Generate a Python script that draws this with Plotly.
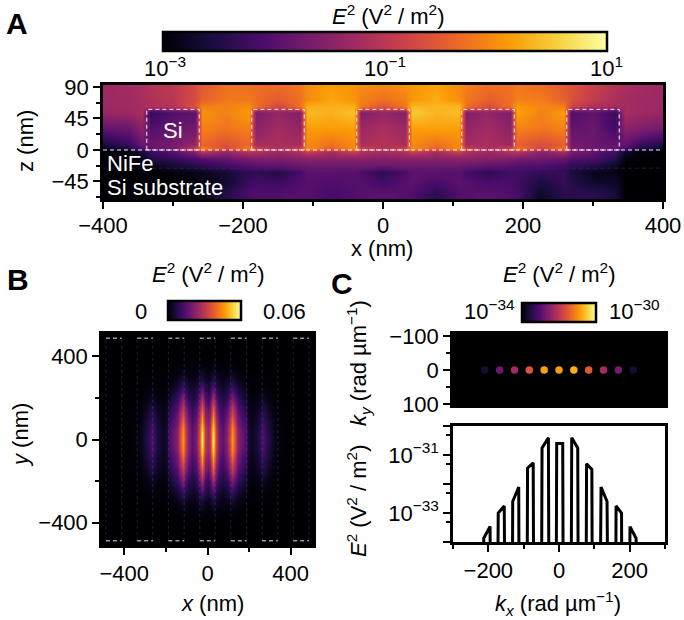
import numpy as np
import plotly.graph_objects as go

W, H = 684, 620
FONT = "Liberation Sans, Arial, sans-serif"
FS = 22
E2_TITLE = "<i>E</i><sup>2</sup> (V<sup>2</sup> / m<sup>2</sup>)"
INFERNO = "Inferno"

# ---- Panel A: log10(E^2) in the x-z cross-section ----
x_a = [-400, -365, -345, -332, -300, -268, -258, -225, -192, -182, -150, -118, -108, -75, -42, -32, 0,
       32, 42, 75, 108, 118, 150, 182, 192, 225, 258, 268, 300, 332, 345, 365, 400]
z_a = [-70, -62, -45, -32, -24, -12, -2, 2, 8, 30, 53, 62, 72, 93]

log_e2_z93 = [-1.32,-1.24,-1.16,-1.08,-1.0,-0.68,-0.52,-0.28,-0.28,-0.32,-0.32,-0.2,-0.04,0.12,0.04,0.0,-0.08,0.0,0.08,0.16,-0.04,-0.16,-0.28,-0.28,-0.2,-0.32,-0.52,-0.6,-0.84,-1.08,-1.16,-1.24,-1.32]
log_e2_z72 = [-1.32,-1.28,-1.2,-1.12,-1.0,-0.68,-0.44,-0.2,-0.2,-0.32,-0.48,-0.28,-0.04,0.2,0.04,-0.12,-0.28,-0.12,0.08,0.24,0.0,-0.2,-0.44,-0.28,-0.12,-0.16,-0.44,-0.6,-0.92,-1.16,-1.24,-1.28,-1.32]
log_e2_z62 = [-1.32,-1.28,-1.2,-1.16,-1.08,-0.6,-0.12,-0.12,0.0,-0.28,-0.76,-0.28,0.28,0.28,0.28,-0.2,-0.6,-0.2,0.36,0.32,0.36,-0.28,-0.68,-0.28,0.12,-0.08,-0.12,-0.8,-1.16,-1.24,-1.24,-1.28,-1.32]
log_e2_z53 = [-1.36,-1.32,-1.2,-2.32,-2.04,-1.92,0.04,-0.12,0.12,-1.64,-1.4,-1.56,0.36,0.28,0.44,-1.56,-1.4,-1.56,0.52,0.32,0.4,-1.56,-1.4,-1.64,0.2,-0.12,0.12,-2.04,-1.88,-2.28,-1.2,-1.28,-1.36]
log_e2_z30 = [-1.88,-1.8,-1.48,-2.04,-1.8,-1.76,-0.12,-0.24,-0.12,-1.48,-1.24,-1.4,0.12,0.12,0.12,-1.32,-1.16,-1.32,0.12,0.16,0.12,-1.4,-1.24,-1.48,-0.12,-0.2,-0.12,-1.88,-1.8,-2.2,-1.48,-1.6,-1.72]
log_e2_z8 = [-2.6,-2.28,-1.8,-1.8,-1.68,-1.4,-0.36,-0.6,-0.36,-1.24,-1.16,-1.24,-0.04,-0.28,-0.04,-1.16,-1.08,-1.16,-0.04,-0.28,-0.04,-1.24,-1.16,-1.32,-0.44,-0.68,-0.44,-1.68,-1.8,-1.88,-1.88,-2.2,-2.52]
log_e2_z2 = [-2.88,-2.6,-2.0,-1.88,-1.72,-0.8,-0.12,-0.68,-0.12,-0.8,-1.16,-0.8,0.0,-0.44,0.0,-0.8,-1.08,-0.8,0.0,-0.44,0.0,-0.8,-1.16,-0.8,-0.2,-0.76,-0.2,-1.64,-1.8,-1.8,-2.12,-2.52,-2.8]
log_e2_zm2 = [-2.96,-2.92,-2.6,-2.28,-1.96,-1.48,-1.0,-1.4,-1.0,-1.1,-1.3,-1.1,-0.84,-1.2,-0.84,-1.1,-1.2,-1.1,-0.84,-1.2,-0.84,-1.1,-1.3,-1.1,-1.0,-1.48,-1.16,-1.64,-1.88,-2.2,-2.68,-2.92,-3.0]
log_e2_zm12 = [-3,-3,-2.84,-2.5,-2.3,-2.1,-2.0,-1.85,-1.65,-1.6,-1.6,-1.55,-1.5,-1.5,-1.5,-1.5,-1.55,-1.5,-1.5,-1.5,-1.5,-1.5,-1.55,-1.6,-1.7,-1.75,-1.85,-2.0,-2.1,-2.45,-2.92,-3,-3]
log_e2_zm24 = [-3,-3,-3,-2.9,-2.7,-2.55,-2.45,-2.25,-2.05,-2.0,-1.95,-1.85,-1.8,-1.8,-1.8,-1.8,-1.85,-1.8,-1.8,-1.8,-1.8,-1.85,-1.95,-2.0,-2.05,-2.1,-2.25,-2.4,-2.5,-2.8,-3,-3,-3]
log_e2_zm32 = [-3,-3,-3,-3,-2.92,-2.85,-2.8,-2.65,-2.35,-2.35,-2.5,-2.15,-1.95,-1.95,-2.0,-2.1,-2.4,-2.1,-1.95,-1.95,-2.0,-2.15,-2.4,-2.2,-2.2,-2.35,-2.3,-2.55,-2.85,-2.85,-3,-3,-3]
log_e2_zm45 = [-3,-3,-3,-3,-3,-2.96,-2.9,-2.7,-2.25,-2.2,-2.25,-2.05,-2.0,-2.05,-2.0,-2.0,-2.2,-2.0,-1.95,-2.1,-1.95,-2.0,-2.15,-2.1,-2.2,-2.55,-2.3,-2.45,-2.7,-2.75,-3,-3,-3]
log_e2_zm62 = [-3,-3,-3,-3,-3,-3,-2.9,-2.45,-2.1,-2.05,-2.05,-2.0,-2.0,-2.15,-2.05,-2.0,-1.95,-2.0,-2.05,-2.4,-2.05,-2.0,-1.95,-2.05,-2.15,-2.75,-2.4,-2.4,-2.4,-2.6,-3,-3,-3]
log_e2_a = [log_e2_zm62, log_e2_zm62, log_e2_zm45, log_e2_zm32, log_e2_zm24, log_e2_zm12, log_e2_zm2,
            log_e2_z2, log_e2_z8, log_e2_z30, log_e2_z53, log_e2_z62, log_e2_z72, log_e2_z93]

si_centres = [-300, -150, 0, 150, 300]
si_half_width = 37.5
si_height = 58
nife_depth = -26

# ---- Panel B: E^2 (10^-3 V^2/m^2) in the x-y plane, one quadrant ----
x_b = [0, 12, 27, 42, 55, 75, 95, 108, 120, 132, 145, 165, 185, 197, 215, 245, 268, 290, 320, 350, 400, 505]
y_b = [0, 50, 100, 150, 200, 250, 300, 350, 400, 505]
e2_y0 = [25, 31, 58, 33, 20, 16, 23, 35, 47, 35, 22, 18, 14, 6, 3, 7, 14, 8, 2.4, 0.6, 0, 0]
e2_y50 = [24, 30, 55, 31, 19, 15, 22, 33, 45, 33, 21, 17, 13, 5.5, 2.8, 6.5, 13, 7, 2, 0.5, 0, 0]
e2_y100 = [20, 25, 46, 27, 16, 13, 19, 28, 38, 28, 18, 14, 10, 4.5, 2.2, 5, 10, 5.5, 1.5, 0.3, 0, 0]
e2_y150 = [16, 20, 37, 21, 13, 10, 15, 22, 30, 22, 14, 11, 7.5, 3.2, 1.5, 3.4, 7, 3.5, 0.8, 0.1, 0, 0]
e2_y200 = [11, 14, 26, 15, 9, 7, 10, 15, 21, 15, 10, 7, 4.5, 2, 0.8, 1.6, 3.5, 1.5, 0.3, 0, 0, 0]
e2_y250 = [6, 8, 14, 8, 5, 4, 6, 8.5, 11, 8, 5, 3.5, 2, 0.8, 0.3, 0.5, 1, 0.4, 0, 0, 0, 0]
e2_y300 = [2.5, 3, 6, 3.5, 2, 1.6, 2.4, 3.4, 4.5, 3, 1.8, 1, 0.5, 0.2, 0.1, 0.1, 0.2, 0, 0, 0, 0, 0]
e2_y350 = [0.6, 0.8, 1.6, 0.9, 0.5, 0.4, 0.6, 0.8, 1, 0.7, 0.4, 0.2, 0.1, 0, 0, 0, 0, 0, 0, 0, 0, 0]
e2_y400 = [0] * len(x_b)
e2_y505 = [0] * len(x_b)
e2_quadrant = [e2_y0, e2_y50, e2_y100, e2_y150, e2_y200, e2_y250, e2_y300, e2_y350, e2_y400, e2_y505]

si_edges_b = [37, 112, 188, 263, 338, 412, 488]
si_spans_b = [(-488, -412), (-338, -262), (-188, -112), (-37, 37), (112, 188), (262, 338), (412, 488)]
si_end_y = 487

# ---- Panel C: reciprocal-space spots and their kx profile ----
kx_spots = [-210, -168, -126, -84, -42, 0, 42, 84, 126, 168, 210]
e2_spots = [2.5e-34, 1.6e-33, 5.2e-33, 2.5e-32, 1.5e-31, 1.3e-31, 1.9e-31, 3e-32, 5.8e-33, 2.1e-33, 2.5e-34]

FLOOR = 1e-60
kx_line = [-300, -221, -213, -195, -187, -180, -172, -155, -147, -139, -131, -114, -106, -97, -89, -73, -65,
           -56, -48, -30, -22, -14.5, -6.5, 10.5, 18.5, 28, 36, 53, 61, 70, 78, 93, 101, 111, 119, 136, 144,
           153.5, 161.5, 177, 185, 193, 201, 218, 226, 300]
e2_line = [FLOOR, FLOOR, 1.35e-34, 3.4e-34, FLOOR, FLOOR, 1e-33, 1.74e-33, FLOOR, FLOOR, 2.5e-33, 7.9e-33, FLOOR,
           FLOOR, 3.5e-32, 5.4e-32, FLOOR, FLOOR, 1.74e-31, 3.9e-31, FLOOR, FLOOR, 2.5e-31, 2.5e-31, FLOOR, FLOOR,
           3.9e-31, 1.74e-31, FLOOR, FLOOR, 5e-32, 3.2e-32, FLOOR, FLOOR, 7.9e-33, 2.5e-33, FLOOR, FLOOR,
           1.74e-33, 1e-33, FLOOR, FLOOR, 3.4e-34, 1.35e-34, FLOOR, FLOOR]


def dom_x(a, b):
    return [a / W, b / W]


def dom_y(top, bottom):
    return [1 - bottom / H, 1 - top / H]


def axis(dom, rng, tickvals=None, ticktext=None, minor=None, **kw):
    d = dict(domain=dom, range=rng, showline=True, mirror=True, linewidth=2.5, linecolor="black",
             showgrid=False, zeroline=False, ticks="outside", ticklen=7, tickwidth=2, tickcolor="black",
             tickfont=dict(family=FONT, size=FS, color="black"), tickmode="array")
    d["tickvals"] = tickvals if tickvals is not None else []
    if ticktext is not None:
        d["ticktext"] = ticktext
    if minor is not None:
        d["minor"] = dict(tickmode="array", tickvals=minor, ticks="outside", ticklen=4, tickwidth=2,
                          tickcolor="black", showgrid=False)
    d.update(kw)
    return d


def text(x, y, s, size=FS, color="black", anchor="center", angle=0):
    return dict(x=x / W, y=1 - y / H, xref="paper", yref="paper", text=s, showarrow=False, xanchor=anchor,
                yanchor="middle", textangle=angle, font=dict(family=FONT, size=size, color=color))


def strip_bar(cx, top, length, thickness, **kw):
    return dict(orientation="h", x=cx / W, xanchor="center", y=1 - top / H, yanchor="top", lenmode="pixels",
                len=length, thicknessmode="pixels", thickness=thickness, xpad=0, ypad=0, outlinewidth=2.5,
                outlinecolor="black", ticks="", showticklabels=False, **kw)


fig = go.Figure()

fig.add_trace(go.Heatmap(x=x_a, y=z_a, z=log_e2_a, zmin=-3, zmax=1, colorscale=INFERNO, zsmooth="best",
                         xaxis="x", yaxis="y", hoverinfo="skip", colorbar=strip_bar(385, 32, 444, 19)))

x_full = [-v for v in x_b[:0:-1]] + x_b
y_full = [-v for v in y_b[:0:-1]] + y_b
quad = np.array(e2_quadrant) / 1000.0
right = np.vstack([quad[:0:-1], quad])
e2_full = np.hstack([right[:, :0:-1], right])
fig.add_trace(go.Heatmap(x=x_full, y=y_full, z=e2_full, zmin=0, zmax=0.06, colorscale=INFERNO, zsmooth="best",
                         xaxis="x2", yaxis="y2", hoverinfo="skip", colorbar=strip_bar(204.5, 301, 73, 19)))

# Faint silicon outlines running along y, and their white dashed ends
vx, vy = [], []
for e in si_edges_b:
    for sx in (-e, e):
        vx += [sx, sx, None]
        vy += [-si_end_y, si_end_y, None]
fig.add_trace(go.Scatter(x=vx, y=vy, mode="lines", xaxis="x2", yaxis="y2", hoverinfo="skip",
                         line=dict(color="rgba(150,150,150,0.22)", width=1, dash="3px,3px")))
hx, hy = [], []
for a, b in si_spans_b:
    for sy in (-si_end_y, si_end_y):
        hx += [a, b, None]
        hy += [sy, sy, None]
fig.add_trace(go.Scatter(x=hx, y=hy, mode="lines", xaxis="x2", yaxis="y2", hoverinfo="skip",
                         line=dict(color="rgba(255,255,255,0.9)", width=1, dash="4px,3px")))

fig.add_trace(go.Scatter(x=kx_spots, y=[0] * len(kx_spots), mode="markers", xaxis="x3", yaxis="y3", hoverinfo="skip",
                         marker=dict(size=7.5, color=np.log10(e2_spots), cmin=-34, cmax=-30, colorscale=INFERNO,
                                     line=dict(width=0), colorbar=strip_bar(559, 303, 74, 19))))

fig.add_trace(go.Scatter(x=kx_line, y=e2_line, mode="lines", xaxis="x4", yaxis="y4", hoverinfo="skip",
                         line=dict(color="black", width=3)))

# Black backdrop of the spot map
shapes = [dict(type="rect", xref="x3 domain", yref="y3 domain", x0=0, x1=1, y0=0, y1=1, layer="below",
               fillcolor="black", line=dict(width=0))]
for c in si_centres:
    shapes.append(dict(type="rect", xref="x", yref="y", x0=c - si_half_width, x1=c + si_half_width, y0=0, y1=si_height,
                       line=dict(color="rgba(255,255,255,0.95)", width=1, dash="4px,3px")))
shapes.append(dict(type="line", xref="x", yref="y", x0=-400, x1=400, y0=0, y1=0,
                   line=dict(color="rgba(255,255,255,0.95)", width=1, dash="4px,3px")))
shapes.append(dict(type="line", xref="x", yref="y", x0=-400, x1=400, y0=nife_depth, y1=nife_depth,
                   line=dict(color="rgba(60,40,80,0.6)", width=1, dash="4px,3px")))

annotations = [
    text(4, 23, "<b>A</b>", size=30, anchor="left"),
    text(5, 279, "<b>B</b>", size=30, anchor="left"),
    text(329, 283, "<b>C</b>", size=30, anchor="left"),
    text(389, 15, E2_TITLE),
    text(208, 273, E2_TITLE),
    text(559, 273, E2_TITLE),
    text(165, 67, "10<sup>−3</sup>"),
    text(385, 67, "10<sup>−1</sup>"),
    text(606, 67, "10<sup>1</sup>"),
    text(141, 311, "0"),
    text(284, 311, "0.06"),
    text(489, 310, "10<sup>−34</sup>"),
    text(634, 310, "10<sup>−30</sup>"),
    text(382, 248, "x (nm)"),
    text(25, 141, "z (nm)", angle=-90),
    text(212, 603, "<i>x</i> (nm)"),
    text(20, 435, "<i>y</i> (nm)", angle=-90),
    text(558, 603, "<i>k<sub>x</sub></i> (rad µm<sup>−1</sup>)"),
    text(358, 363, "<i>k<sub>y</sub></i> (rad µm<sup>−1</sup>)", angle=-90),
    text(357, 500, E2_TITLE, angle=-90),
    text(173, 130, "Si", color="white"),
    text(105, 163, "NiFe", color="white", anchor="left"),
    text(105, 187, "Si substrate", color="white", anchor="left"),
]

fig.update_layout(
    width=W, height=H, paper_bgcolor="white", plot_bgcolor="white", showlegend=False,
    margin=dict(l=0, r=0, t=0, b=0, autoexpand=False),
    font=dict(family=FONT, size=FS, color="black"),
    shapes=shapes, annotations=annotations,
    xaxis=axis(dom_x(103, 663), [-400, 400], [-400, -200, 0, 200, 400], ["−400", "−200", "0", "200", "400"],
               minor=[-300, -100, 100, 300], anchor="y", ticklabelstandoff=-2),
    yaxis=axis(dom_y(84.5, 199), [-70, 93.5], [-45, 0, 45, 90], ["−45", "0", "45", "90"],
               minor=[-67.5, -22.5, 22.5, 67.5], anchor="x"),
    xaxis2=axis(dom_x(102, 313), [-507, 507], [-400, 0, 400], ["−400", "0", "400"], minor=[-200, 200], anchor="y2"),
    yaxis2=axis(dom_y(334, 545), [-507, 507], [-400, 0, 400], ["−400", "0", "400"], minor=[-200, 200], anchor="x2"),
    xaxis3=axis(dom_x(453, 665), [-300, 300], [], ticks="", anchor="y3", showticklabels=False),
    yaxis3=axis(dom_y(334, 405), [103.5, -106], [-100, 0, 100], ["−100", "0", "100"], minor=[-50, 50], anchor="x3"),
    xaxis4=axis(dom_x(453, 665), [-300, 300], [-200, 0, 200], ["−200", "0", "200"], minor=[-300, -100, 100, 300],
                anchor="y4"),
    yaxis4=axis(dom_y(426, 542), [-34, -30], [1e-34, 1e-33, 1e-32, 1e-31, 1e-30],
                ["", "10<sup>−33</sup>", "", "10<sup>−31</sup>", ""],
                minor=[5e-34, 5e-33, 5e-32, 5e-31], type="log", anchor="x4"),
)

fig.write_html("out.html")
